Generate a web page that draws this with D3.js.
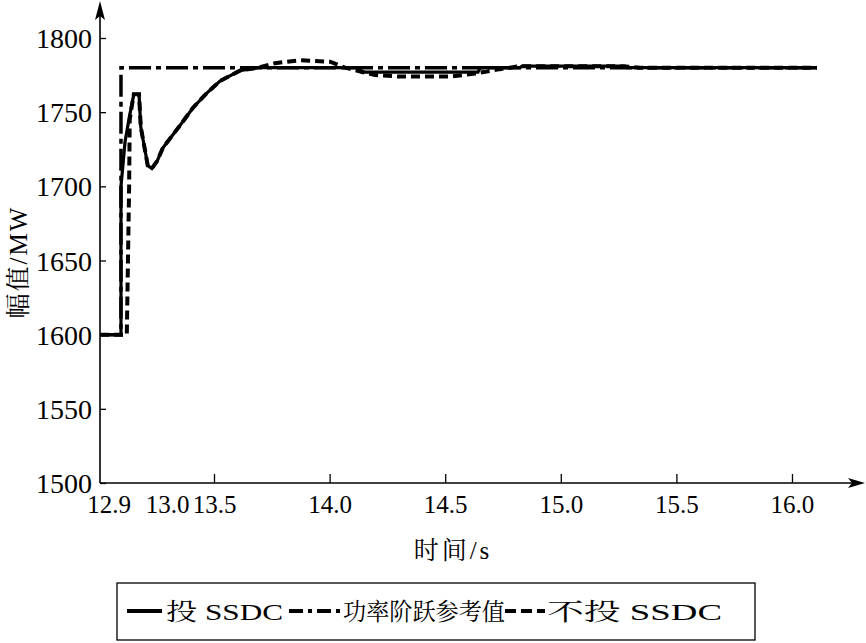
<!DOCTYPE html>
<html><head><meta charset="utf-8">
<script src="https://cdn.jsdelivr.net/npm/d3@7"></script>
<style>body{margin:0;background:#fff}</style></head>
<body>
<svg id="c" width="866" height="643"></svg>
<script>
// ---- data ----
const xTickValues = [12.9, 13.0, 13.5, 14.0, 14.5, 15.0, 15.5, 16.0];
const xTickLabels = ["12.9", "13.0", "13.5", "14.0", "14.5", "15.0", "15.5", "16.0"];
const yTickValues = [1500, 1550, 1600, 1650, 1700, 1750, 1800];
const xBreaks = [12.885, 13.0, 13.5, 16.27];   // non-uniform time axis of the original

const refT = [12.885, 12.921, 12.921, 16.108];
const refV = [1600, 1600, 1780, 1780];

const withT = [12.885, 12.921, 12.921, 12.928, 12.936, 12.943, 12.952, 12.955, 12.961, 12.967, 12.974, 12.983, 12.993,
  13.138, 13.277, 13.426, 13.526, 13.612, 13.690, 14.131, 14.140, 14.642, 14.651, 14.824, 14.832, 15.278, 15.286, 16.108];
const withV = [1600, 1600, 1700, 1730, 1748, 1762, 1762, 1740, 1727, 1714, 1712, 1717, 1726,
  1741, 1753, 1763, 1771, 1778, 1780, 1780, 1777, 1777, 1780, 1780, 1781, 1781, 1780, 1780];

const withoutT = [12.885, 12.931, 12.933, 12.935, 12.936, 12.940, 12.943, 12.952, 12.955, 12.961, 12.967, 12.974, 12.983, 12.993,
  13.138, 13.277, 13.426, 13.526, 13.612, 13.690, 13.764, 13.872, 14.002, 14.067, 14.196, 14.304, 14.521, 14.629, 14.737,
  14.824, 15.256, 15.343, 16.108];
const withoutV = [1600, 1600, 1650, 1700, 1745, 1755, 1762, 1762, 1740, 1727, 1714, 1712, 1717, 1726,
  1741, 1753, 1763, 1771, 1778, 1780, 1783, 1785, 1784, 1780, 1775, 1774, 1774, 1776, 1779,
  1781, 1781, 1780, 1780];

const legendLabels = ["投 SSDC", "功率阶跃参考值", "不投 SSDC"];
const xTitle = "时间/s";
const yTitle = "幅值/MW";

// ---- drawing ----
const svg = d3.select("#c");
const FONT = '"Liberation Serif","Noto Serif CJK SC",serif';
const x = d3.scaleLinear().domain(xBreaks).range([100, 167, 214, 854.4]);
const y = d3.scaleLinear().domain([1500, 1800]).range([483, 38]);
const x0 = x(xBreaks[0]), y0 = y(1500);

// axes
const xa = svg.append("g").attr("transform", `translate(0,${y0})`)
  .call(d3.axisBottom(x).tickValues(xTickValues).tickSize(-9).tickPadding(12)
    .tickFormat((d, i) => xTickLabels[i]));
xa.attr("font-family", null).attr("font-size", null);
xa.select(".domain").remove();
xa.selectAll(".tick").filter(d => d < 13.5).select("line").remove();
xa.selectAll("text").style("font-family", FONT).style("font-size", "25px").attr("fill", "#000");
xa.selectAll("line").attr("stroke", "#000").attr("stroke-width", 1.3);

const ya = svg.append("g").attr("transform", `translate(${x0},0)`)
  .call(d3.axisLeft(y).tickValues(yTickValues).tickSize(-6).tickPadding(8).tickFormat(d3.format("d")));
ya.attr("font-family", null).attr("font-size", null);
ya.select(".domain").remove();
ya.selectAll("text").style("font-family", FONT).style("font-size", "28px").attr("fill", "#000").attr("dy", "0.34em");
ya.selectAll("line").attr("stroke", "#000").attr("stroke-width", 1.3);

// axis lines with arrows
svg.append("line").attr("x1", x0).attr("y1", y0).attr("x2", 858).attr("y2", y0).attr("stroke", "#000").attr("stroke-width", 1.6);
svg.append("path").attr("d", `M865,${y0} L848,${y0 - 5} L852,${y0} L848,${y0 + 5} Z`).attr("fill", "#000");
svg.append("line").attr("x1", x0).attr("y1", y0).attr("x2", x0).attr("y2", 8).attr("stroke", "#000").attr("stroke-width", 1.6);
svg.append("path").attr("d", `M${x0},1 L${x0 - 5},20 L${x0},16 L${x0 + 5},20 Z`).attr("fill", "#000");

// titles
svg.append("text").attr("x", 453).attr("y", 559).attr("text-anchor", "middle")
  .style("font-family", FONT).style("font-size", "25px").style("letter-spacing", "3px").text(xTitle);
svg.append("text").attr("transform", "translate(27,262) rotate(-90)").attr("text-anchor", "middle")
  .style("font-family", FONT).style("font-size", "25px").style("letter-spacing", "2px").text(yTitle);

// series
const line = d3.line().x(d => x(d[0])).y(d => y(d[1]));
const zip = (a, b) => a.map((t, i) => [t, b[i]]);
svg.append("path").datum(zip(withT, withV)).attr("d", line).attr("fill", "none")
  .attr("stroke", "#000").attr("stroke-width", 3.2);
svg.append("path").datum(zip(withoutT, withoutV)).attr("d", line).attr("fill", "none")
  .attr("stroke", "#000").attr("stroke-width", 4).attr("stroke-dasharray", "9,5");
svg.append("path").datum(zip(refT, refV)).attr("d", line).attr("fill", "none")
  .attr("stroke", "#000").attr("stroke-width", 3.5).attr("stroke-dasharray", "22,5,5,5");

// legend
svg.append("rect").attr("x", 117).attr("y", 583).attr("width", 638).attr("height", 57)
  .attr("fill", "none").attr("stroke", "#000").attr("stroke-width", 1.3);
const ly = 611;
const items = [
  {x1: 127, x2: 162, dash: null, tx: 166, w: 117},
  {x1: 289, x2: 341, dash: "14,5,4,5", tx: 343, w: 162},
  {x1: 505, x2: 545, dash: "11,5", tx: 547, w: 175}
];
items.forEach((it, i) => {
  svg.append("line").attr("x1", it.x1).attr("x2", it.x2).attr("y1", ly).attr("y2", ly)
    .attr("stroke", "#000").attr("stroke-width", 4).attr("stroke-dasharray", it.dash);
  svg.append("text").attr("x", it.tx).attr("y", ly + 9)
    .style("font-family", FONT).style("font-size", "24px")
    .attr("textLength", it.w).attr("lengthAdjust", "spacingAndGlyphs")
    .text(legendLabels[i]);
});
</script>
</body></html>
